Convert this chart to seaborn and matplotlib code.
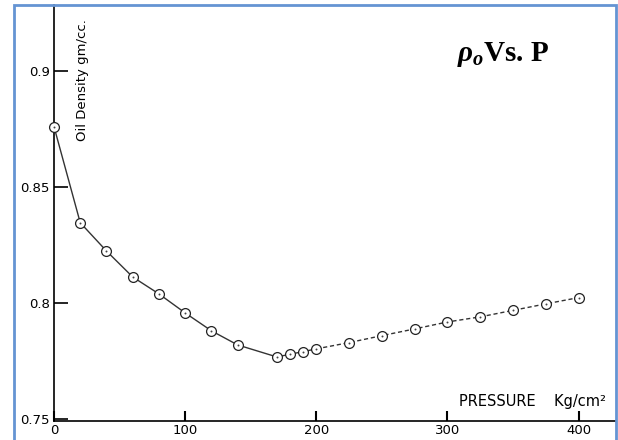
import matplotlib
matplotlib.use("Agg")
import matplotlib.pyplot as plt
import seaborn as sns
import pandas as pd
from matplotlib.patches import Rectangle

# Data
pressure = [0, 20, 40, 60, 80, 100, 120, 140, 170, 180, 190, 200,
            225, 250, 275, 300, 325, 350, 375, 400]
density = [0.876, 0.8346, 0.8224, 0.8112, 0.8039, 0.7957, 0.788, 0.7819,
           0.7767, 0.7779, 0.779, 0.7802, 0.7829, 0.7859, 0.7888, 0.7918,
           0.794, 0.7968, 0.7996, 0.8023]
x_ticks = [0, 100, 200, 300, 400]
x_tick_labels = ["0", "100", "200", "300", "400"]
y_ticks = [0.75, 0.8, 0.85, 0.9]
y_tick_labels = ["0.75", "0.8", "0.85", "0.9"]

df = pd.DataFrame({"P": pressure, "rho": density})
solid = df[df["P"] <= 200]
dashed = df[df["P"] >= 200]

sns.set_style("white")
plt.rcParams["font.family"] = ["DejaVu Sans"]
plt.rcParams["text.color"] = "black"
plt.rcParams["mathtext.fontset"] = "custom"
plt.rcParams["mathtext.it"] = "Liberation Serif:italic:bold"
plt.rcParams["mathtext.rm"] = "Liberation Serif:bold"
plt.rcParams["mathtext.bf"] = "Liberation Serif:bold"

fig = plt.figure(figsize=(6.18, 4.40), dpi=100)
ax = fig.add_axes([54 / 618, 19 / 440, 562 / 618, 416 / 440])

sns.lineplot(data=solid, x="P", y="rho", ax=ax, color="#333333", linewidth=1.0,
             sort=True, estimator=None)
sns.lineplot(data=dashed, x="P", y="rho", ax=ax, color="#333333", linewidth=1.0,
             sort=True, estimator=None, linestyle=(0, (3, 2)))
sns.scatterplot(data=df, x="P", y="rho", ax=ax, marker="o", s=50,
                facecolor="white", edgecolor="#222222", linewidth=0.9,
                zorder=3, clip_on=False)
sns.scatterplot(data=df, x="P", y="rho", ax=ax, marker="o", s=2,
                color="#444444", linewidth=0, zorder=4, clip_on=False)

ax.set_xlim(0, 428.5)
ax.set_ylim(0.7491, 0.92845)
ax.set_xticks(x_ticks)
ax.set_xticklabels(x_tick_labels)
ax.set_yticks(y_ticks)
ax.set_yticklabels(y_tick_labels)
ax.set_xlabel("")
ax.set_ylabel("")

for s in ["top", "right"]:
    ax.spines[s].set_visible(False)
for s in ["left", "bottom"]:
    ax.spines[s].set_color("black")
    ax.spines[s].set_linewidth(1.2)

ax.tick_params(axis="y", direction="in", length=10, width=1.2, pad=3,
               labelsize=9.5, colors="black", left=True)
ax.tick_params(axis="x", direction="in", length=7, width=1.5, pad=2,
               labelsize=9.5, colors="black", bottom=True)

ax.text(0.05, 0.82, "Oil Density gm/cc.", transform=ax.transAxes, rotation=90,
        fontsize=9.5, ha="center", va="center", color="black")
ax.text(0.72, 0.046, "PRESSURE    Kg/cm²", transform=ax.transAxes,
        fontsize=10.5, ha="left", va="center", color="black")

fig.text(457 / 618, 1 - 61 / 440, r"$\rho_o$Vs. P", fontsize=21,
         family="Liberation Serif", weight="bold", ha="left", va="baseline",
         color="black")

rect = Rectangle((14 / 618, -0.05), 602 / 618, 1.05 - 5 / 440,
                 transform=fig.transFigure, fill=False, edgecolor="#6594D3",
                 linewidth=2, clip_on=False)
fig.patches.append(rect)

fig.savefig("out.png", dpi=100, facecolor="white")
